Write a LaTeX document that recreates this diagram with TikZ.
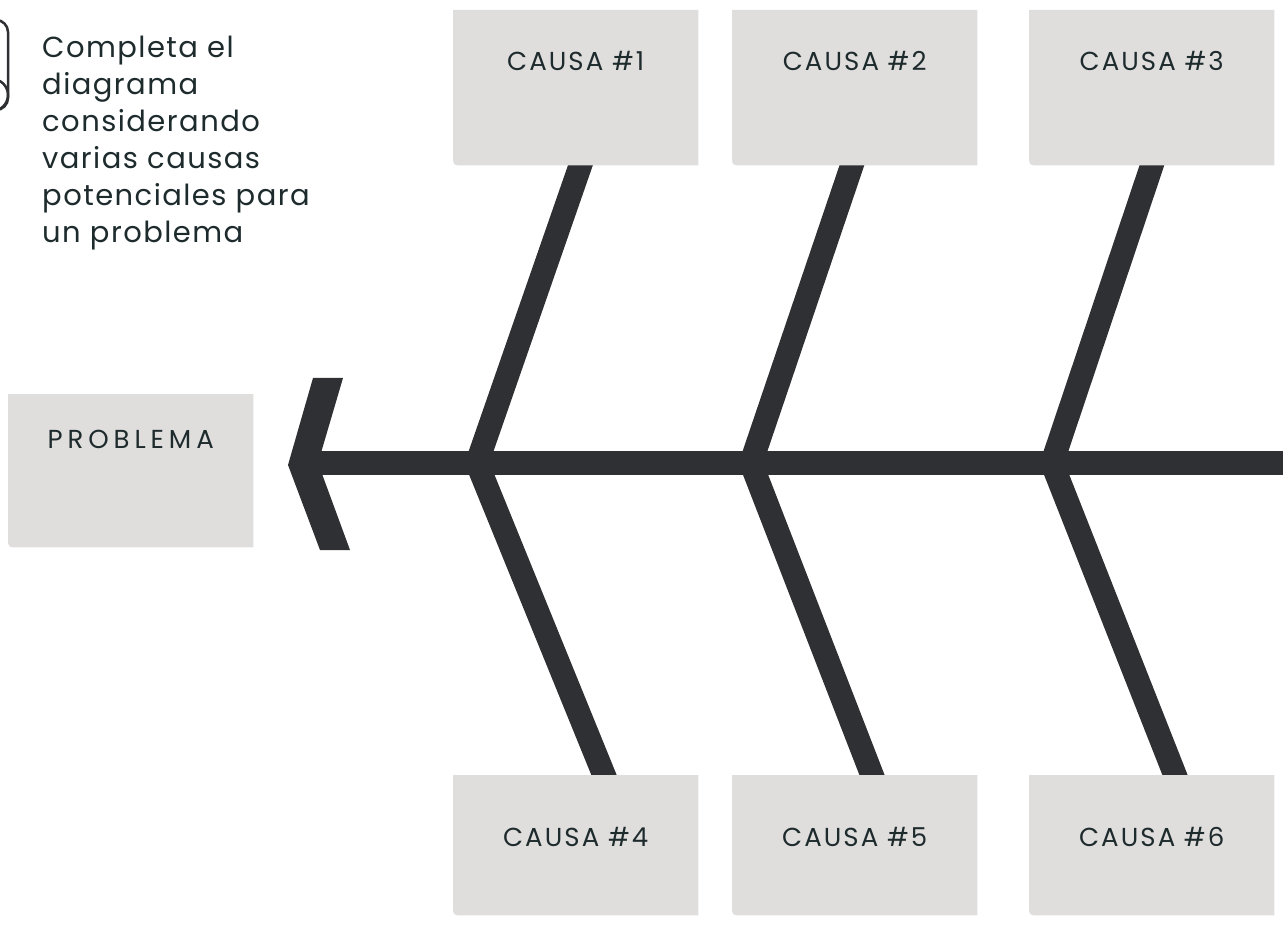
\documentclass[tikz,border=0pt]{standalone}
\usepackage{fontspec}
\setmainfont{Poppins}
\newfontfamily\causefont{Poppins}[LetterSpace=8]
\newfontfamily\probfont{Poppins}[LetterSpace=19]
\newfontfamily\notefont{Poppins}[LetterSpace=5]
\usetikzlibrary{calc}
\definecolor{bonecol}{HTML}{2F3033}
\definecolor{boxfill}{HTML}{E0DDDD}
\definecolor{ink}{HTML}{1E2B2D}
\pgfdeclarelayer{bones}
\pgfdeclarelayer{fills}
\pgfsetlayers{bones,fills,main}
\begin{document}
\begin{tikzpicture}[x=1pt,y=-1pt,
  causebox/.style={anchor=north west, minimum width=245pt, text width=245pt,
    inner xsep=0pt, inner ysep=0pt, align=center, text=ink,
    font=\causefont\fontsize{26}{30}\selectfont},
  bonestroke/.style={draw=bonecol, line width=23.5pt},
  boxbg/.style={fill=boxfill}
]
\useasboundingbox (0,0) rectangle (1283,925);

% boxes
\node[causebox, text height=60pt, text depth=95pt] (c1) at (453,10) {CAUSA \#1};
\node[causebox, text height=60pt, text depth=95pt] (c2) at (732,10) {CAUSA \#2};
\node[causebox, text height=60pt, text depth=95pt] (c3) at (1029,10) {CAUSA \#3};
\node[causebox, text height=71pt, text depth=69pt] (c4) at (453,775) {CAUSA \#4};
\node[causebox, text height=71pt, text depth=69pt] (c5) at (732,775) {CAUSA \#5};
\node[causebox, text height=71pt, text depth=69pt] (c6) at (1029,775) {CAUSA \#6};
\node[causebox, text height=54pt, text depth=99pt, font=\probfont\fontsize{26}{30}\selectfont] (prob) at (8,394) {PROBLEMA};

\begin{pgfonlayer}{fills}
\foreach \b in {c1,c2,c3,c4,c5,c6,prob}{
  \fill[boxbg] (\b.north west) -- (\b.north east) -- (\b.south east)
    -- ([xshift=10pt]\b.south west) .. controls (\b.south west) .. ([yshift=10pt]\b.south west) -- cycle;
}
\end{pgfonlayer}

% skeleton
\coordinate (j1) at (477,463);
\coordinate (j2) at (751,463);
\coordinate (j3) at (1052,463);
\coordinate (t1) at (580.5,165);
\coordinate (t2) at (852,165);
\coordinate (t3) at (1152,165);
\coordinate (b1) at (604,775);
\coordinate (b2) at (872,775);
\coordinate (b3) at (1175,775);
\coordinate (head) at (316,463);
\coordinate (tail) at (1295,463);

\begin{pgfonlayer}{bones}
\foreach \j/\t/\bb in {j1/t1/b1, j2/t2/b2, j3/t3/b3}{
  \draw[bonestroke, shorten >=-25pt] (\j) -- (\t);
  \draw[bonestroke, shorten >=-25pt] (\j) -- (\bb);
}
\draw[draw=bonecol, line width=24pt] (head) -- (tail);
\fill[bonecol] (313,378) -- (343,378) -- (318,463) -- (350,550) -- (320,550) -- (288,465) -- cycle;
\end{pgfonlayer}

% icon
\draw[draw=bonecol, line width=2.5pt, rounded corners=12pt] (-30,20) rectangle (8,110);
\draw[draw=bonecol, line width=2.5pt] (-8,95) circle[radius=16pt];

% instruction text
\node[anchor=north west, inner sep=0pt, align=left, text=ink,
  font=\notefont\fontsize{29}{37}\selectfont] (note) at (42,36)
  {Completa el\\diagrama\\considerando\\varias causas\\potenciales para\\un problema};
\end{tikzpicture}
\end{document}
